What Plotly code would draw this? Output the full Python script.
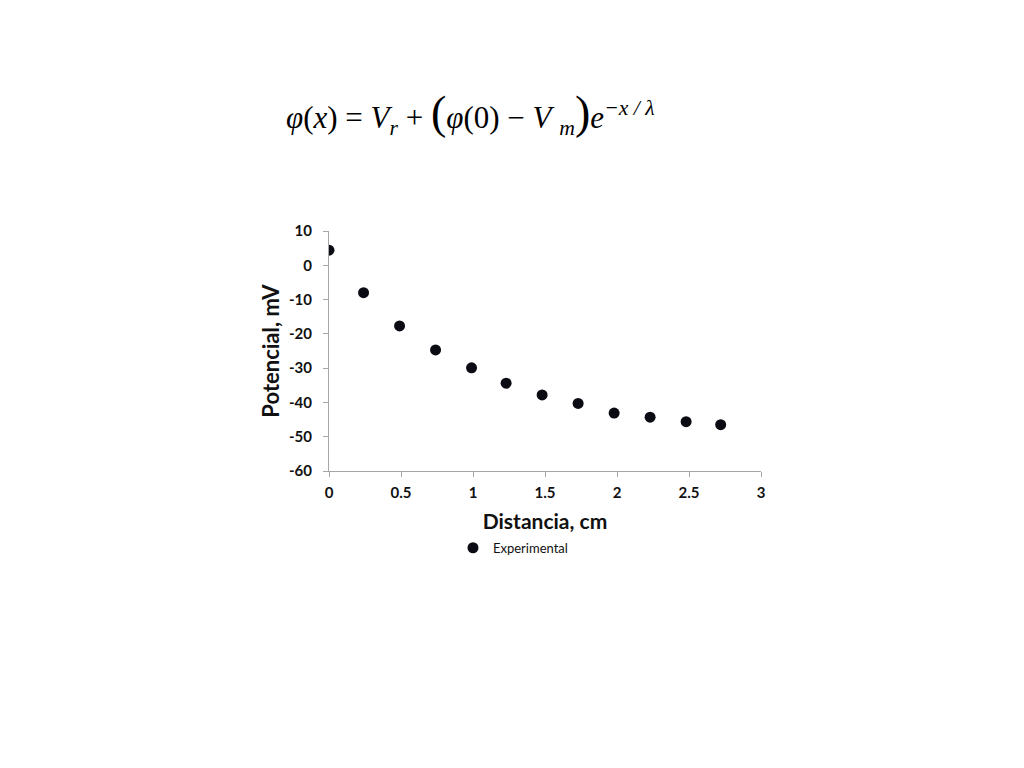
import plotly.graph_objects as go

distancia = [0, 0.24, 0.49, 0.74, 0.99, 1.23, 1.48, 1.73, 1.98, 2.23, 2.48, 2.72]
potencial = [4.4, -8.0, -17.7, -24.7, -29.9, -34.4, -37.8, -40.3, -43.1, -44.3, -45.6, -46.5]
serie = "Experimental"
x_ticks = [0, 0.5, 1, 1.5, 2, 2.5, 3]
y_ticks = [10, 0, -10, -20, -30, -40, -50, -60]

font_fam = "Lato, 'Open Sans', sans-serif"

fig = go.Figure()
fig.add_trace(go.Scatter(
    x=distancia, y=potencial, mode="markers", name=serie,
    marker=dict(color="#0b0b14", size=11, line=dict(width=0)),
))

fig.update_layout(
    width=1024, height=768,
    paper_bgcolor="white", plot_bgcolor="white",
    margin=dict(l=321, r=271, t=223, b=305, autoexpand=False),
    showlegend=True,
    legend=dict(orientation="h", x=0.287, xanchor="left", y=-0.32, yanchor="middle",
                font=dict(family=font_fam, size=13, color="#111"),
                itemwidth=30, tracegroupgap=0),
    font=dict(family=font_fam),
)
fig.update_xaxes(
    range=[0, 3], tickvals=x_ticks, ticktext=[str(v) for v in x_ticks],
    showgrid=False, zeroline=False, showline=True, linecolor="#a6a6a6", linewidth=1,
    ticks="outside", ticklen=5, tickcolor="#a6a6a6", ticklabelstandoff=3,
    tickfont=dict(family=font_fam, size=15, color="#111", weight="bold"),
    title=dict(text="<b>Distancia, cm</b>", font=dict(family=font_fam, size=21, color="#111"), standoff=14),
)
fig.update_yaxes(
    range=[-60, 10], tickvals=y_ticks, ticktext=[str(v) for v in y_ticks],
    showgrid=False, zeroline=False, showline=True, linecolor="#a6a6a6", linewidth=1,
    ticks="outside", ticklen=5, tickcolor="#a6a6a6", ticklabelstandoff=8,
    tickfont=dict(family=font_fam, size=15, color="#111", weight="bold"),
    title=dict(text="<b>Potencial, mV</b>", font=dict(family=font_fam, size=22, color="#111"), standoff=3),
)

eq = ("<i>φ</i>(<i>x</i>) = <i>V<sub>r</sub></i> + <span style='font-size:46px'>(</span>"
      "<i>φ</i>(0) − <i>V</i> <sub><i>m</i></sub><span style='font-size:46px'>)</span>"
      "<i>e<sup>−x / λ</sup></i>")
fig.add_annotation(
    text=eq, xref="paper", yref="paper", x=(470 - 329) / 432, y=(768 - 114 - 297) / 240,
    xanchor="center", yanchor="middle", showarrow=False,
    font=dict(family="'Liberation Serif', 'DejaVu Serif', serif", size=31, color="black"),
)

fig.write_html("out.html")
